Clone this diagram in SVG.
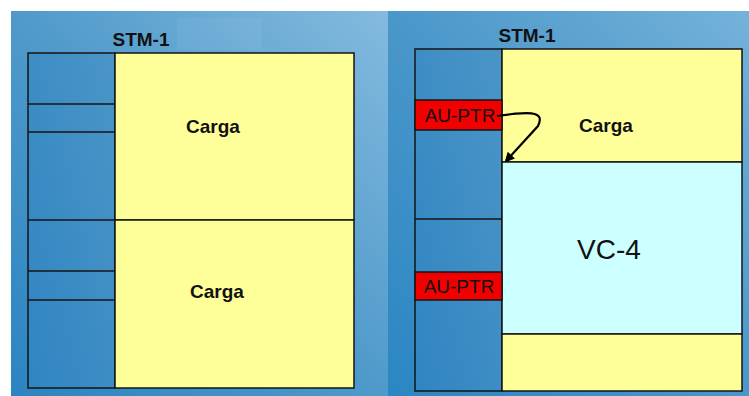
<svg xmlns="http://www.w3.org/2000/svg" width="749" height="396" viewBox="0 0 749 396">
<defs>
<linearGradient id="bgL" x1="0" y1="1" x2="1" y2="0">
<stop offset="0" stop-color="#2b84c1"/>
<stop offset="0.5" stop-color="#4f9acb"/>
<stop offset="1" stop-color="#84bade"/>
</linearGradient>
<linearGradient id="bgR" x1="0" y1="1" x2="1" y2="0">
<stop offset="0" stop-color="#2a86c3"/>
<stop offset="0.5" stop-color="#4a97ca"/>
<stop offset="1" stop-color="#74b2d9"/>
</linearGradient>
<linearGradient id="col" x1="0" y1="1" x2="1" y2="0">
<stop offset="0" stop-color="#3085c2"/>
<stop offset="1" stop-color="#4b95c7"/>
</linearGradient>
<marker id="ah" markerWidth="10" markerHeight="10" refX="8" refY="5" orient="auto" markerUnits="userSpaceOnUse">
<path d="M0,0 L10,5 L0,10 z" fill="#000"/>
</marker>
</defs>
<style>
.ln{stroke:#141414;stroke-width:1.5;fill:none}
.box{stroke:#141414;stroke-width:1.5}
.yel{fill:#ffff99}
.cy{fill:#ccffff}
.red{fill:#f20000}
.t{font-family:"Liberation Sans",Arial,sans-serif;fill:#111}
.b{font-weight:bold}
</style>
<rect x="0" y="0" width="749" height="396" fill="#ffffff"/>
<rect x="11" y="11" width="377" height="385" fill="url(#bgL)"/>
<rect x="177" y="18" width="85" height="32" fill="#ffffff" opacity="0.05"/>
<rect x="388" y="11" width="361" height="385" fill="url(#bgR)"/>

<g id="left-frame">
<rect x="28" y="53" width="87" height="335" fill="url(#col)" class="box"/>
<line x1="28" y1="104" x2="115" y2="104" class="ln"/>
<line x1="28" y1="132" x2="115" y2="132" class="ln"/>
<line x1="28" y1="220" x2="115" y2="220" class="ln"/>
<line x1="28" y1="271" x2="115" y2="271" class="ln"/>
<line x1="28" y1="300" x2="115" y2="300" class="ln"/>
<text x="141" y="46" class="t b" font-size="19" text-anchor="middle">STM-1</text>
</g>
<g id="left-carga1">
<rect x="115" y="53" width="239" height="167" class="yel box"/>
<text x="213" y="133" class="t b" font-size="19" text-anchor="middle">Carga</text>
</g>
<g id="left-carga2">
<rect x="115" y="220" width="239" height="168" class="yel box"/>
<text x="217" y="298" class="t b" font-size="19" text-anchor="middle">Carga</text>
</g>

<g id="right-frame">
<rect x="415" y="49" width="87" height="342" fill="url(#col)" class="box"/>
<line x1="415" y1="219" x2="502" y2="219" class="ln"/>
<text x="527" y="42" class="t b" font-size="19" text-anchor="middle">STM-1</text>
</g>
<g id="right-carga">
<rect x="502" y="49" width="240" height="113" class="yel box"/>
<text x="606" y="132" class="t b" font-size="19" text-anchor="middle">Carga</text>
</g>
<g id="vc4">
<rect x="502" y="162" width="240" height="172" class="cy box"/>
<text x="609" y="259" class="t" font-size="28" text-anchor="middle">VC-4</text>
</g>
<g id="right-bottom">
<rect x="502" y="334" width="240" height="57" class="yel box"/>
</g>
<g id="auptr1">
<rect x="415" y="100" width="87" height="30" class="red box"/>
<text x="460" y="122" class="t" font-size="19" text-anchor="middle">AU-PTR</text>
</g>
<g id="auptr2">
<rect x="415" y="272" width="87" height="28" class="red box"/>
<text x="459" y="293" class="t" font-size="19" text-anchor="middle">AU-PTR</text>
</g>

<g id="connectors">
<path d="M497,116 L512,114 C526,113 546,110 538,126 L506,161" fill="none" stroke="#000" stroke-width="2.2" marker-end="url(#ah)"/>
</g>
</svg>
